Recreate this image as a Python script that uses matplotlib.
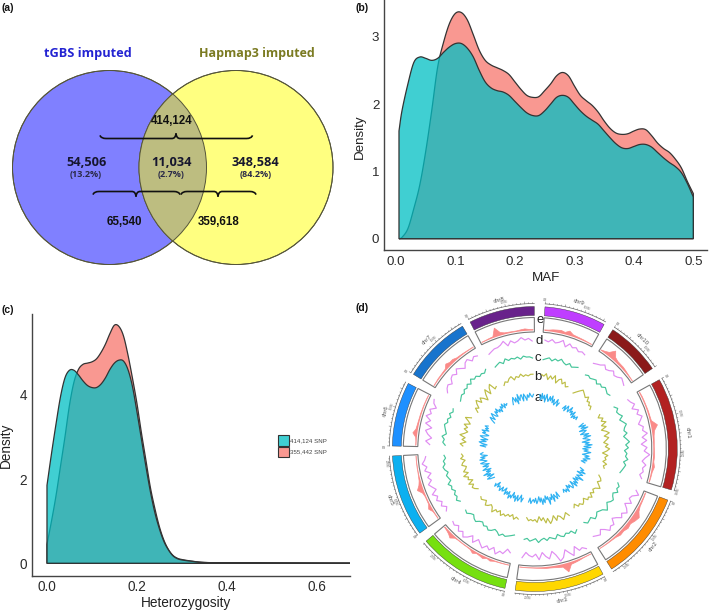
import numpy as np
import matplotlib
matplotlib.use("Agg")
import matplotlib.pyplot as plt
from matplotlib.patches import Circle, PathPatch, Rectangle
from matplotlib.path import Path

plt.rcParams['font.family'] = ['Liberation Sans', 'DejaVu Sans']

W, H = 709, 610

# ---------- panel (b) ----------
maf_teal_x = [.005,.01,.02,.03,.04,.05,.06,.07,.08,.09,.10,.11,.12,.13,.14,.15,.16,.17,.18,.19,.20,.21,.22,.23,.24,.25,.26,.27,.28,.29,.30,.31,.32,.33,.34,.35,.36,.37,.38,.39,.40,.41,.42,.43,.44,.45,.46,.47,.48,.49,.50]
maf_teal_y = [1.6,1.9,2.3,2.62,2.7,2.68,2.65,2.68,2.77,2.85,2.9,2.9,2.83,2.7,2.5,2.33,2.24,2.2,2.18,2.13,2.04,1.95,1.87,1.83,1.83,1.9,2.0,2.1,2.13,2.1,2.0,1.9,1.82,1.76,1.7,1.6,1.5,1.41,1.35,1.34,1.37,1.4,1.4,1.36,1.28,1.2,1.13,1.07,.98,.82,.62]
maf_red_y = [0,.02,.15,.45,.8,1.3,1.9,2.55,2.92,3.2,3.35,3.36,3.25,3.03,2.8,2.65,2.58,2.54,2.5,2.44,2.33,2.22,2.13,2.1,2.11,2.2,2.3,2.42,2.47,2.42,2.27,2.13,2.05,1.98,1.88,1.75,1.64,1.57,1.55,1.56,1.6,1.63,1.62,1.53,1.42,1.34,1.28,1.18,1.05,.85,.67]

# ---------- panel (c) ----------
het_x = [0,.01,.02,.03,.04,.05,.06,.07,.08,.09,.10,.11,.12,.13,.14,.15,.16,.17,.18,.19,.20,.21,.22,.23,.24,.25,.26,.27,.28,.29,.30,.32,.35,.40,.45,.50,.59,.68]
het_teal_y = [1.85,2.6,3.3,3.95,4.4,4.58,4.58,4.47,4.33,4.22,4.17,4.17,4.25,4.4,4.6,4.75,4.82,4.8,4.6,4.2,3.6,2.95,2.3,1.7,1.2,.82,.52,.32,.18,.11,.08,.05,.02,.012,.01,.005,.002,0]
het_red_y = [.45,1.0,1.6,2.3,3.0,3.75,4.3,4.6,4.72,4.75,4.78,4.85,5.0,5.2,5.45,5.65,5.62,5.4,4.95,4.4,3.8,3.1,2.45,1.8,1.3,.87,.55,.33,.19,.12,.09,.055,.02,.01,.01,.005,.002,0]
legend_labels = ['414,124 SNP', '355,442 SNP']

# ---------- panel (d) ----------
chrom_names = ['chr1','chr2','chr3','chr4','chr5','chr6','chr7','chr8','chr9','chr10']
chrom_start = [60.9,111.0,151.4,192.1,233.8,271.2,301.6,333.0,4.1,33.2]
chrom_end = [106.7,147.4,187.9,229.7,267.2,297.4,329.5,359.8,29.1,55.6]
chrom_mb = [301,237,232,242,217,169,176,175,156,150]
chrom_colors = ['#B22222','#FF8C00','#FFD700','#76E010','#0CB0F0','#1E90FF','#1874CD','#68228B','#BF3EFF','#8B1A1A']

density_e = [
 [.8,1,1,1,1.2,1.2,1.5,6.5,2.5,1.5,1.2,1,1.2,1.5,1.2,2.5,1.2,1,.8],
 [.8,1,1.2,1.5,3,6.5,5,3,4,2.5,3,1.5,1,.8,.6,.5],
 [.6,.6,.8,1.5,2,2.5,9,3,2.5,1.8,1.5,1.5,1,.8,.6,.6,.6,.6],
 [.6,.6,.7,.7,1,2.2,1,2.8,1.8,1.2,3,1,.7,.7,.7,.7,1.2,4.5,2.5,1.5,1],
 [.7,.7,1,3.5,1.2,1,1,2,6,3,1.5,1,.7,.7,.6,.6,.6],
 [.7,.7,1.2,4.5,2,1.5,1.2,1,1,.8,.8,.7,.7,.6],
 [.7,.7,1,1,1.2,1.5,4.5,2.8,3,1.5,1.2,1,.8,.7,.7],
 [.7,.7,1,1.2,9,3,1.5,1.2,1,1,1.5,2,1.2,1],
 [1,1.2,2,2.5,3,2,4.5,2,1.5,1.2,1,.7,.6],
 [.7,1.8,3.5,8.5,3.5,2.2,2,2,1.5,1,.7,.6],
]
track_d = [
 [-2,-1,1,-2,2,0,3,1,-1,2,1,4,0,3,-1,3,1,5,2,0,3,1,2,0,2],
 [1,4,0,-1,2,-2,1,3,0,2,-1,-3,1,0,2,-1,-3,0,-1,-2],
 [3,1,2,-2,4,1,-2,3,5,0,-3,2,0,-3,2,-2,0,-1,-3,1],
 [-1,-3,1,0,3,-1,2,0,3,1,-1,3,-1,2,4,1,3,0,2,1],
 [0,-2,1,-1,2,0,3,-1,1,3,0,2,-1,3,1,4,2,1],
 [-2,1,-3,0,2,-2,3,0,4,1,3,-1,2,3],
 [-3,-1,0,-2,1,2,0,3,1,-1,2,3,0,2,1],
 [-2,-1,0,0,1,3,-1,2,0,1,3,1,2,0],
 [1,0,2,0,1,3,-1,2,0,1,-1,0,-1],
 [-3,-2,-1,1,-1,0,2,0,1,3,2,1],
]
track_c = [
 [-1,1,-1,0,2,-1,1,3,1,0,2,-1,1,3,0,2,-1,1,0,2,-1,1,0,-1,-2],
 [-1,1,0,2,-1,0,2,1,-1,1,3,0,-1,-2,0,1,-2,-1,0,-2],
 [0,2,-1,0,-1,1,0,-2,1,0,-1,1,-1,0,2,-1,0,1,-1,0],
 [-2,-1,0,1,0,2,0,-1,1,2,0,1,-1,0,2,1,-1,0,2,1],
 [0,2,0,1,-1,1,0,2,-1,0,1,-1,1,2,0,1,-1,0],
 [-1,1,0,2,-1,0,1,2,0,1,-1,1,-1,0],
 [-2,-1,0,-1,1,0,2,0,3,1,2,0,1,0,2],
 [0,1,2,0,3,1,2,1,2,0,2,1,1,0],
 [-1,0,1,-1,1,0,2,0,-1,1,-1,0,1],
 [-1,0,-1,0,1,-1,1,0,2,1,0,1],
]
track_b = [
 [1,-1,2,0,3,-1,2,-2,1,3,-1,2,0,-2,1,-1,2,0,-3,1,-1,0,-2,1,-1,0],
 [-2,0,1,-1,1,3,0,-1,1,-1,2,0,1,-2,0,1,-1,0,-3,-1],
 [2,-1,1,3,0,-1,2,-2,1,3,-1,2,-2,0,-3,1,-1,0,-1,0,-2],
 [0,-1,1,-2,0,-1,1,0,2,-1,1,0,3,0,-1,1,2,-1,0,1,0],
 [-2,0,1,-1,2,-2,1,0,3,-1,2,0,-1,2,1,-1,2,0,1],
 [0,2,-2,1,-1,3,0,-2,1,-1,2,-2,0,3,-1],
 [-3,0,-2,1,3,-1,2,0,-3,1,4,-1,3,5,0,1],
 [-1,1,0,2,3,0,2,1,3,1,2,1,2,2],
 [2,1,3,-1,2,0,3,-2,1,2,-1,1,-2,-1],
 [-3,-1,1,3,2,1,0,2,-1,0,-2,-1,-3],
]
track_a = [
 [2,-2,3,-1,4,-3,2,0,-3,3,-1,4,-2,1,3,-3,2,-1,4,-2,3,-3,1,-2,3,0,-3,2,-1,3,-2,1,-3,0],
 [-2,1,-1,3,-3,2,0,-2,4,-2,1,-3,2,-1,3,-3,1,2,-2,0,-3,2,-1,1,-2,0],
 [1,-3,2,0,-2,3,-3,1,-1,4,-2,0,-3,2,-1,3,-2,1,-3,0,2,-2,1,-1,0,2,-2,1],
 [-1,2,-3,0,2,-2,3,-1,1,-3,2,0,3,-2,1,-1,2,-3,0,1,-2,2,0,-1,1,-3,2,0],
 [-2,1,3,-3,2,-1,4,-2,1,-3,3,0,-2,2,-3,1,3,-2,0,3,-1,2,-3,1,2,0],
 [-2,2,-3,1,3,-2,2,-3,1,3,-1,-3,2,0,3,-2,1,-1,2,0],
 [-3,0,2,-2,1,3,-1,-2,2,0,3,-1,1,-2,2,0,3,-1,2,0,1],
 [-2,1,3,-1,2,-3,4,-1,2,3,-2,3,1,-2,2,0,3,1,0,2],
 [2,-2,3,-1,2,-3,3,0,-2,2,-1,3,-2,1,-3,-1,2,-3,0],
 [-2,1,-3,2,0,-2,3,-1,1,-2,2,-3,0,-2,1,-1],
]
ring_radius = {'a': 52, 'b': 72, 'c': 91, 'd': 108}
ring_colors = {'a': '#2FB2F2', 'b': '#BDBD45', 'c': '#45C59A', 'd': '#E08CF2'}
ring_letters = ['a', 'b', 'c', 'd', 'e']

# ---------- page helpers ----------
def px_axes(x0, y0, x1, y1, **kw):
    return fig.add_axes([x0/W, 1-y1/H, (x1-x0)/W, (y1-y0)/H], **kw)

fig = plt.figure(figsize=(W/100, H/100), dpi=100)
bg = fig.add_axes([0, 0, 1, 1])
bg.set_xlim(0, W); bg.set_ylim(H, 0); bg.axis('off')

# ---------- (a) venn ----------
c_left = (109.5, 167.5); c_right = (236, 167.5); radius = 97
edge = '#55553a'
bg.add_patch(Circle(c_left, radius, fc='#8080FF', ec=edge, lw=.7))
bg.add_patch(Circle(c_right, radius, fc='#FFFF80', ec=edge, lw=.7))
clip_c = Circle(c_left, radius, transform=bg.transData)
overlap = Circle(c_right, radius, fc='#BDBD80', ec='none')
bg.add_patch(overlap); overlap.set_clip_path(clip_c)
for cen in (c_left, c_right):
    bg.add_patch(Circle(cen, radius, fc='none', ec=edge, lw=.7))

def brace(x0, x1, xm, y, s):
    h = 3.5*s; p = 5*s
    v = [(x0, y+h*0.9), (x0+1, y), (x0+6, y), (xm-4, y), (xm-.5, y), (xm, y+p*1.0),
         (xm+.5, y), (xm+4, y), (x1-6, y), (x1-1, y), (x1, y+h*0.9)]
    codes = [Path.MOVETO, Path.CURVE3, Path.CURVE3, Path.LINETO, Path.CURVE3, Path.CURVE3,
             Path.CURVE3, Path.CURVE3, Path.LINETO, Path.CURVE3, Path.CURVE3]
    bg.add_patch(PathPatch(Path(v, codes), fc='none', ec='#111111', lw=1.2))

brace(100, 252.5, 176, 138.5, -1)
brace(93, 180, 136, 191.5, 1)
brace(181, 256, 218, 191.5, 1)

tf = ['Open Sans', 'DejaVu Sans']
bg.text(88, 54, 'tGBS imputed', color='#2323D2', family=tf, weight='bold', size=9.2, ha='center', va='center')
bg.text(257, 54, 'Hapmap3 imputed', color='#7B7B22', family=tf, weight='bold', size=9.0, ha='center', va='center')
for x, y, t in [(86.7, 162.5, '54,506'), (171.7, 162.5, '11,034'), (255.7, 162.5, '348,584')]:
    bg.text(x, y, t, color='#16162e', family=tf, weight='bold', size=9.2, ha='center', va='center')
for x, y, t in [(86, 174.5, '(13.2%)'), (170.7, 174.5, '(2.7%)'), (256, 174.5, '(84.2%)')]:
    bg.text(x, y, t, color='#2a2a48', family=tf, weight='bold', size=6.6, ha='center', va='center')
for x, y, t in [(172, 121.5, '414,124'), (124, 222, '65,540'), (218.3, 222, '359,618')]:
    bg.text(x, y, t, color='#111111', weight='bold', size=8.3, ha='center', va='center')

for x, y, t in [(1, 8, '(a)'), (355, 8, '(b)'), (1, 310, '(c)'), (356, 308, '(d)')]:
    bg.text(x, y, t, color='#111111', weight='bold', size=7.5, ha='left', va='center')

# ---------- density helper ----------
RED = (248/255, 118/255, 109/255, .75)
TEAL = (0, 191/255, 196/255, .75)
LINE = '#333333'

def smooth(p, n=6):
    # Catmull-Rom drawing through the read points, only rounds the corners
    p = np.asarray(p, float)
    m = np.gradient(p)
    t = np.linspace(0, 1, n, endpoint=False)[:, None]
    a, b = p[:-1], p[1:]
    ma, mb = m[:-1], m[1:]
    h = ((2*t**3-3*t**2+1)*a + (t**3-2*t**2+t)*ma + (-2*t**3+3*t**2)*b + (t**3-t**2)*mb)
    return np.r_[h.T.ravel(), p[-1]]

def density(ax, x, y, col):
    sx, sy = smooth(x), np.maximum(smooth(y), 0)
    vx = np.r_[sx[0], sx, sx[-1]]; vy = np.r_[0, sy, 0]
    ax.fill(vx, vy, fc=col, ec=LINE, lw=.9, closed=True)

def style(ax, xlab, ylab, xt, yt, fs, xl, yl, xpad, ypad):
    for s in ('top', 'right'):
        ax.spines[s].set_visible(False)
    for s in ('left', 'bottom'):
        ax.spines[s].set_color('#444444'); ax.spines[s].set_linewidth(1.0)
    ax.set_xticks(xt); ax.set_yticks(yt)
    ax.set_xticklabels([f'{v:.1f}' for v in xt])
    ax.tick_params(length=0, labelsize=fs, labelcolor='#2b2b2b')
    ax.tick_params(axis='x', pad=xpad)
    ax.tick_params(axis='y', pad=ypad)
    ax.set_xlabel(xlab, size=fs, color='#222222', va='center')
    ax.set_ylabel(ylab, size=fs, color='#222222', va='center')
    ax.xaxis.set_label_coords(xl[0], xl[1], transform=bg.transData)
    ax.yaxis.set_label_coords(yl[0], yl[1], transform=bg.transData)
    ax.patch.set_alpha(0)

# ---------- (b) ----------
axb = px_axes(384.3, 0, 707, 250)
density(axb, maf_teal_x, maf_red_y, RED)
density(axb, maf_teal_x, maf_teal_y, TEAL)
axb.set_xlim(-.0197, .523); axb.set_ylim(-.168, 3.547)
style(axb, 'MAF', 'Density', [0, .1, .2, .3, .4, .5], [0, 1, 2, 3], 9.6, (546, 278), (360, 137), 4.6, 3.6)

# ---------- (c) ----------
axc = px_axes(31.7, 314, 350, 575.7)
density(axc, het_x, het_red_y, RED)
density(axc, het_x, het_teal_y, TEAL)
axc.set_xlim(-.034, .674); axc.set_ylim(-.294, 5.915)
style(axc, 'Heterozygosity', 'Density', [0, .2, .4, .6], [0, 2, 4], 9.8, (186, 602.5), (6, 445), 3.0, 3.4)
for (y0, col, lab) in [(435, TEAL, legend_labels[0]), (446.7, RED, legend_labels[1])]:
    bg.add_patch(Rectangle((277.7, y0), 11, 10.7, fc=col, ec=LINE, lw=.8))
    bg.text(290.5, y0+5.3, lab, size=4.4, color='#444444', ha='left', va='center')

# ---------- (d) circos ----------
cx, cy, R = 534.8, 449.0, 165
axd = px_axes(cx-R, cy-R, cx+R, cy+R, projection='polar')
axd.set_theta_zero_location('N'); axd.set_theta_direction(-1)
axd.set_rlim(0, R); axd.axis('off'); axd.patch.set_alpha(0)
rad = np.deg2rad

for i, name in enumerate(chrom_names):
    a0, a1 = chrom_start[i], chrom_end[i]
    mid = (a0+a1)/2
    axd.bar(rad(mid), 142.5-133.5, rad(a1-a0), bottom=133.5, fc=chrom_colors[i], ec='#333333', lw=.3)
    axd.bar(rad(mid), 131.5-117, rad(a1-a0), bottom=117, fc='none', ec='#777777', lw=.8)
    t = np.linspace(a0, a1, 40)
    axd.plot(rad(t), np.full_like(t, 145.5), color='#666666', lw=.5)
    scale = (a1-a0)/chrom_mb[i]
    for mb in range(0, chrom_mb[i]+1, 10):
        major = mb % 50 == 0
        th = rad(a0+mb*scale)
        axd.plot([th, th], [145.5, 147.5 if major else 146.5], color='#666666', lw=.35)
        if mb % 100 == 0:
            deg = a0+mb*scale
            rot = -deg if (deg < 90 or deg > 270) else 180-deg
            axd.text(th, 149.5, f'{mb}M', size=2.2, color='#777777', rotation=rot,
                     rotation_mode='anchor', ha='center', va='center')
    rot = -mid if (mid < 90 or mid > 270) else 180-mid
    axd.text(rad(mid), 153.5, name, size=4.3, color='#555555', rotation=rot,
             rotation_mode='anchor', ha='center', va='center')
    vals = np.array(density_e[i], float)
    t = np.linspace(a0+.6, a1-.6, len(vals))
    axd.fill_between(rad(t), 118.5, 118.5+vals, fc='#FA8A88', ec='none', lw=0)
    axd.plot(rad(t), 118.5+vals, color='#FA8A88', lw=.5)
    for key, data, gain in (('a', track_a, 1.35), ('b', track_b, 1.4), ('c', track_c, 1.3), ('d', track_d, 1.4)):
        vals = np.array(data[i], float)*gain
        t = np.linspace(a0+1.2, a1-1.2, len(vals))
        axd.plot(rad(t), ring_radius[key]+vals, color=ring_colors[key], lw=.85)

for letter, (x, y) in zip(ring_letters, [(538, 398), (538, 377), (538, 358), (539, 341), (540, 320)]):
    bg.text(x, y, letter, size=9.5, color='#222222', ha='center', va='center', zorder=5)

fig.savefig('out.png', dpi=100)
